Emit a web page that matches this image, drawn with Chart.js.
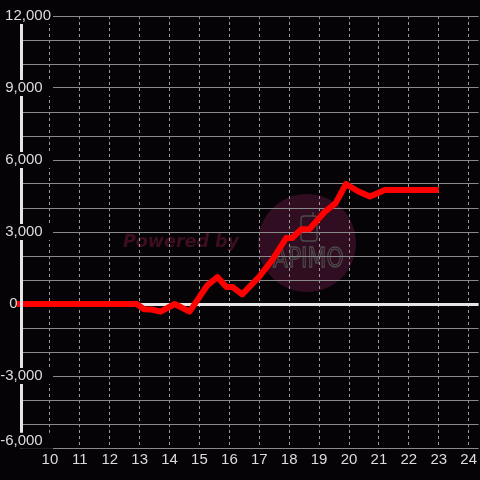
<!DOCTYPE html>
<html>
<head>
<meta charset="utf-8">
<script src="https://cdn.jsdelivr.net/npm/chart.js@4.4.1/dist/chart.umd.min.js"></script>
<style>
  html, body { margin: 0; padding: 0; background: #050306; }
  #wrap { width: 480px; height: 480px; }
</style>
</head>
<body>
<div id="wrap"><canvas id="c" width="480" height="480"></canvas></div>
<script>
// ---- data ----
const xValues = [8.9, 12.9, 13.15, 13.4, 13.7, 14.17, 14.67, 15.27, 15.6, 15.9, 16.1, 16.43, 17.0, 17.43, 17.9, 18.1, 18.4, 18.67, 19.2, 19.55, 19.9, 20.3, 20.7, 21.2, 23.0];
const yValues = [0, 0, -220, -230, -320, 0, -320, 790, 1120, 710, 710, 400, 1140, 1830, 2750, 2750, 3110, 3110, 3850, 4200, 5000, 4700, 4480, 4750, 4750];
const xTicks = [10, 11, 12, 13, 14, 15, 16, 17, 18, 19, 20, 21, 22, 23, 24];
const yGridStep = 1000;
const yLabelTicks = [-6000, -3000, 0, 3000, 6000, 9000, 12000];
const xRange = [9.0333, 24.3333];
const yRange = [-6000, 12000];
// the lowest y label is drawn slightly raised above its grid line
const yBottomLabelAt = yRange[0] + 300;

const BG = '#050306';
const TEXT = '#dcdcdc';
const FONT_FAMILY = '"Liberation Sans", Arial, sans-serif';
const FONT_SIZE = 15;

const points = xValues.map((x, i) => ({ x: x, y: yValues[i] }));

const fmt = v => v.toLocaleString('en-US');
const yLabelText = v => {
  if (v === yBottomLabelAt) return fmt(yRange[0]) + '  ';
  if (v === yRange[0] || !yLabelTicks.includes(v)) return '';
  if (v === 12000) return fmt(v);
  if (v === 0) return fmt(v) + '        ';
  return fmt(v) + '  ';
};
const hasBackdrop = v => v === yBottomLabelAt || (yLabelTicks.includes(v) && v !== 0 && v !== yRange[0]);

// widest y label, so right-aligned labels end at x = 51
const mctx = document.createElement('canvas').getContext('2d');
mctx.font = FONT_SIZE + 'px ' + FONT_FAMILY;
const widestY = Math.max(...yLabelTicks.map(v => mctx.measureText(yLabelText(v)).width),
                         mctx.measureText(yLabelText(yBottomLabelAt)).width);
const yPad = 30 - widestY;

const bgPlugin = {
  id: 'bgAndWatermark',
  beforeDraw(chart) {
    const ctx = chart.ctx;
    ctx.save();
    ctx.fillStyle = BG;
    ctx.fillRect(0, 0, chart.width, chart.height);
    // watermark
    ctx.fillStyle = '#300d21';
    ctx.beginPath();
    ctx.arc(307, 243, 49, 0, Math.PI * 2);
    ctx.fill();
    ctx.fillStyle = '#3c0e20';
    ctx.font = 'bold italic 17.5px "DejaVu Sans"';
    ctx.textBaseline = 'alphabetic';
    ctx.fillText('Powered by', 123, 247);
    ctx.strokeStyle = '#4c4c4c';
    ctx.lineWidth = 1.3;
    ctx.save();
    ctx.translate(273, 267);
    ctx.scale(0.84, 1);
    ctx.font = '26px "DejaVu Sans"';
    ctx.strokeText('APIMO', 0, 0);
    ctx.restore();
    ctx.beginPath();
    ctx.roundRect(301, 216, 16, 25, 3);
    ctx.stroke();
    ctx.beginPath();
    ctx.moveTo(313, 216);
    ctx.lineTo(313, 212);
    ctx.stroke();
    ctx.restore();
  }
};

new Chart(document.getElementById('c'), {
  type: 'line',
  data: {
    datasets: [{
      data: points,
      borderColor: '#ff0000',
      backgroundColor: '#ff0000',
      borderWidth: 6,
      borderJoinStyle: 'round',
      pointRadius: 0,
      tension: 0,
      fill: false,
      clip: false
    }]
  },
  options: {
    responsive: false,
    animation: false,
    devicePixelRatio: 1,
    layout: { padding: { top: 16, left: 0, right: 0, bottom: 0 } },
    plugins: { legend: { display: false }, tooltip: { enabled: false } },
    scales: {
      x: {
        type: 'linear',
        position: 'bottom',
        min: xRange[0],
        max: xRange[1],
        afterBuildTicks: s => { s.ticks = xTicks.map(v => ({ value: v })); },
        ticks: {
          color: TEXT,
          font: { family: FONT_FAMILY, size: FONT_SIZE },
          padding: 3,
          maxRotation: 0,
          autoSkip: false,
          callback: v => String(v)
        },
        grid: { color: '#9a9a9a', lineWidth: 1, drawTicks: false },
        border: { display: false, dash: [3, 3] },
        afterFit: s => { s.height = 32; }
      },
      y: {
        type: 'linear',
        position: 'left',
        min: yRange[0],
        max: yRange[1],
        afterBuildTicks: s => {
          const t = [];
          for (let v = yRange[0]; v <= yRange[1]; v += yGridStep) t.push(v);
          t.push(yBottomLabelAt);
          t.sort((a, b) => a - b);
          s.ticks = t.map(v => ({ value: v }));
        },
        ticks: {
          autoSkip: false,
          color: TEXT,
          font: { family: FONT_FAMILY, size: FONT_SIZE },
          mirror: true,
          crossAlign: 'far',
          padding: yPad,
          z: 2,
          callback: v => yLabelText(v),
          showLabelBackdrop: ctx => hasBackdrop(ctx.tick.value),
          backdropColor: BG,
          backdropPadding: { top: -1, bottom: -1, left: 1, right: 2 }
        },
        grid: {
          color: ctx => (ctx.tick && ctx.tick.value === 0) ? '#e6e6e6' : '#8a8a8a',
          lineWidth: ctx => {
            const v = ctx.tick ? ctx.tick.value : null;
            if (v === yBottomLabelAt) return 0;
            return v === 0 ? 3 : 1;
          },
          drawTicks: false
        },
        border: { display: true, color: '#e6e6e6', width: 3, z: 1 },
        afterFit: s => { s.width = 21; }
      }
    }
  },
  plugins: [bgPlugin]
});
</script>
</body>
</html>
